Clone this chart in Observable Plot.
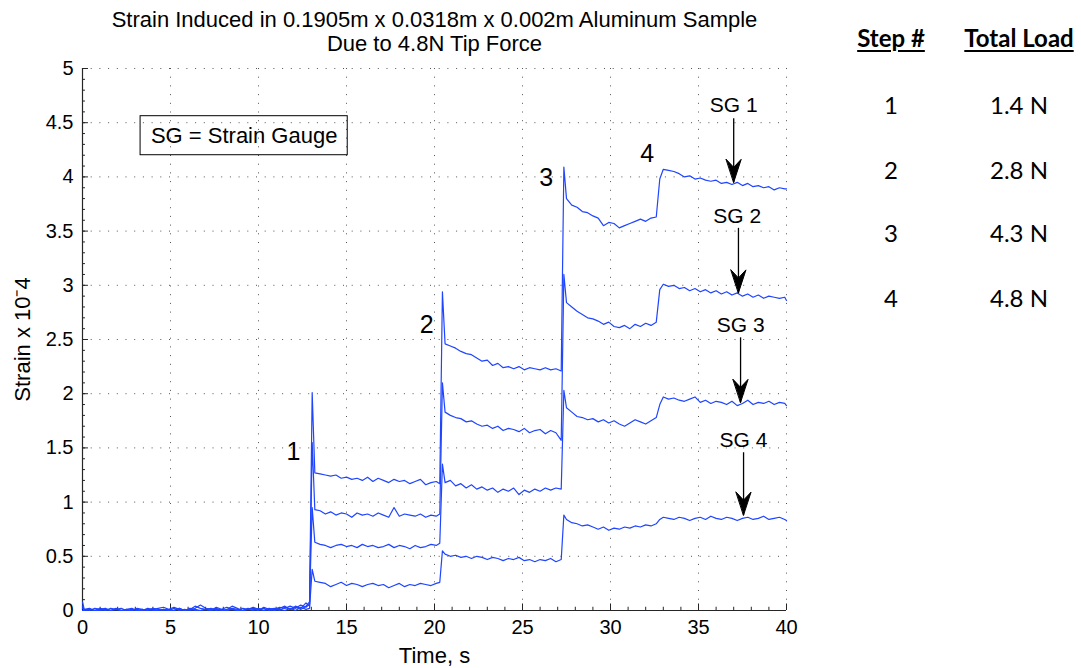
<!DOCTYPE html>
<html>
<head>
<meta charset="utf-8">
<script src="https://cdn.jsdelivr.net/npm/d3@7"></script>
<script src="https://cdn.jsdelivr.net/npm/@observablehq/plot@0.6"></script>
<style>
  body { margin: 0; background: #fff; }
  #wrap { position: relative; width: 1081px; height: 668px; overflow: hidden; }
  #wrap svg { position: absolute; left: 0; top: 0; }
  #table { position: absolute; left: 0; top: 0; width: 1081px; height: 668px; font-family: "Lato", "Open Sans", sans-serif; color: #000; pointer-events: none; }
  #table div { position: absolute; transform: translate(-50%, -50%); white-space: nowrap; font-size: 24px; line-height: 1; }
  #table .hd { font-weight: bold; text-decoration: underline; text-decoration-thickness: 2px; text-underline-offset: 3px; }
</style>
</head>
<body>
<div id="wrap"></div>
<script>
// ---------- data ----------
const seriesNames = ["SG 1", "SG 2", "SG 3", "SG 4"];

const time = [
  0, 0.1, 0.4, 0.7, 1.0, 1.3, 1.6, 1.9, 2.2, 2.5, 2.8, 3.1, 3.4, 3.7, 4.0, 4.3, 4.6, 4.9, 5.2, 5.5, 5.8, 6.1, 6.4, 6.7, 7.0,
  7.3, 7.6, 7.9, 8.2, 8.5, 8.8, 9.1, 9.4, 9.7, 10.0, 10.3, 10.6, 10.9, 11.2, 11.5, 11.8, 12.1, 12.4, 12.7, 12.9,
  13.05, 13.2, 13.5, 13.8, 14.1, 14.4, 14.7, 15.0, 15.3, 15.6, 15.9, 16.2, 16.5, 16.8, 17.1, 17.4, 17.7, 18.0, 18.3, 18.6,
  18.9, 19.2, 19.5, 19.8, 20.1, 20.3,
  20.45, 20.6, 20.9, 21.2, 21.5, 21.8, 22.1, 22.4, 22.7, 23.0, 23.3, 23.6, 23.9, 24.2, 24.5, 24.8, 25.1, 25.4, 25.7, 26.0,
  26.3, 26.6, 26.9, 27.2,
  27.35, 27.5, 27.8, 28.1, 28.4, 28.7, 29.0, 29.3, 29.6, 29.9, 30.2, 30.5, 30.8, 31.1, 31.4, 31.7, 32.0, 32.3, 32.6,
  32.8, 33.0, 33.3, 33.6, 33.9, 34.2, 34.5, 34.8, 35.1, 35.4, 35.7, 36.0, 36.3, 36.6, 36.9, 37.2, 37.5, 37.8, 38.1, 38.4,
  38.7, 39.0, 39.3, 39.6, 39.9, 40.0
];

const sg1 = [
  0.08, 0.01, 0.00, 0.02, 0.01, 0.00, 0.02, 0.01, 0.00, 0.01, 0.02, 0.00, 0.01, 0.00, 0.02, 0.01, 0.00, 0.01, 0.03, 0.01,
  0.00, 0.02, 0.01, 0.00, 0.01, 0.02, 0.00, 0.01, 0.03, 0.01, 0.00, 0.02, 0.01, 0.03, 0.01, 0.00, 0.02, 0.01, 0.03, 0.02,
  0.04, 0.02, 0.05, 0.03, 0.06,
  2.01, 1.27, 1.26, 1.25, 1.24, 1.25, 1.22, 1.23, 1.21, 1.22, 1.20, 1.23, 1.19, 1.22, 1.20, 1.18, 1.21, 1.19, 1.20, 1.17,
  1.19, 1.21, 1.16, 1.18, 1.19, 1.17,
  2.94, 2.46, 2.44, 2.42, 2.39, 2.37, 2.36, 2.33, 2.30, 2.31, 2.26, 2.28, 2.24, 2.25, 2.23, 2.25, 2.22, 2.24, 2.23, 2.22,
  2.24, 2.22, 2.23, 2.21,
  4.09, 3.80, 3.74, 3.72, 3.68, 3.67, 3.64, 3.62, 3.55, 3.58, 3.57, 3.53, 3.55, 3.57, 3.59, 3.61, 3.59, 3.62, 3.63,
  3.98, 4.07, 4.06, 4.05, 4.03, 4.00, 4.01, 3.98, 3.99, 3.97, 3.96, 3.97, 3.94, 3.95, 3.93, 3.95, 3.92, 3.94, 3.91, 3.92,
  3.90, 3.91, 3.88, 3.90, 3.89, 3.89
];

const sg2 = [
  0.04, 0.00, 0.01, 0.00, 0.02, 0.01, 0.00, 0.02, 0.00, 0.01, 0.00, 0.02, 0.01, 0.00, 0.01, 0.02, 0.03, 0.01, 0.00, 0.02,
  0.00, 0.01, 0.04, 0.02, 0.01, 0.00, 0.03, 0.01, 0.00, 0.02, 0.01, 0.00, 0.02, 0.01, 0.00, 0.03, 0.01, 0.02, 0.00, 0.03,
  0.01, 0.04, 0.02, 0.07, 0.04,
  1.55, 0.93, 0.92, 0.89, 0.91, 0.88, 0.90, 0.89, 0.86, 0.90, 0.88, 0.89, 0.87, 0.90, 0.88, 0.86, 0.95, 0.87, 0.89, 0.88,
  0.87, 0.89, 0.86, 0.88, 0.87, 0.89,
  2.10, 1.83, 1.80, 1.78, 1.77, 1.74, 1.75, 1.72, 1.70, 1.71, 1.68, 1.70, 1.66, 1.68, 1.67, 1.65, 1.68, 1.64, 1.66, 1.67,
  1.63, 1.66, 1.64, 1.57,
  3.10, 2.84, 2.80, 2.76, 2.73, 2.70, 2.69, 2.67, 2.64, 2.66, 2.62, 2.61, 2.63, 2.60, 2.64, 2.62, 2.65, 2.63, 2.66,
  2.96, 3.01, 2.99, 3.00, 2.97, 2.98, 2.95, 2.97, 2.94, 2.96, 2.93, 2.95, 2.92, 2.94, 2.91, 2.93, 2.90, 2.92, 2.89, 2.91,
  2.88, 2.90, 2.89, 2.88, 2.89, 2.86
];

const sg3 = [
  0.02, 0.01, 0.02, 0.00, 0.01, 0.02, 0.00, 0.01, 0.02, 0.00, 0.00, 0.01, 0.00, 0.02, 0.01, 0.00, 0.01, 0.00, 0.02, 0.00,
  0.01, 0.00, 0.02, 0.05, 0.02, 0.01, 0.02, 0.00, 0.01, 0.04, 0.02, 0.00, 0.01, 0.02, 0.01, 0.02, 0.00, 0.01, 0.02, 0.04,
  0.01, 0.03, 0.01, 0.04, 0.08,
  0.95, 0.63, 0.61, 0.60, 0.58, 0.60, 0.61, 0.59, 0.60, 0.58, 0.61, 0.59, 0.60, 0.58, 0.59, 0.61, 0.58, 0.60, 0.59, 0.57,
  0.60, 0.58, 0.59, 0.61, 0.60, 0.62,
  1.35, 1.18, 1.20, 1.15, 1.17, 1.13, 1.16, 1.12, 1.14, 1.11, 1.13, 1.09, 1.12, 1.10, 1.13, 1.07, 1.11, 1.09, 1.12, 1.10,
  1.13, 1.11, 1.13, 1.12,
  2.03, 1.87, 1.83, 1.79, 1.78, 1.76, 1.77, 1.74, 1.76, 1.73, 1.75, 1.72, 1.70, 1.73, 1.76, 1.74, 1.72, 1.75, 1.78,
  1.90, 1.97, 1.95, 1.96, 1.94, 1.93, 1.95, 1.97, 1.92, 1.94, 1.91, 1.93, 1.92, 1.90, 1.93, 1.89, 1.91, 1.94, 1.90, 1.92,
  1.91, 1.93, 1.90, 1.92, 1.91, 1.89
];

const sg4 = [
  0.00, 0.00, 0.01, 0.00, 0.00, 0.01, 0.00, 0.01, 0.00, 0.00, 0.01, 0.00, 0.00, 0.01, 0.00, 0.00, 0.01, 0.00, 0.00, 0.02,
  0.00, 0.01, 0.00, 0.00, 0.01, 0.00, 0.01, 0.00, 0.00, 0.01, 0.00, 0.00, 0.01, 0.00, 0.02, 0.00, 0.01, 0.00, 0.01, 0.00,
  0.02, 0.00, 0.03, 0.01, 0.02,
  0.38, 0.27, 0.26, 0.25, 0.22, 0.24, 0.26, 0.23, 0.25, 0.24, 0.22, 0.24, 0.25, 0.23, 0.24, 0.21, 0.23, 0.25, 0.22, 0.24,
  0.23, 0.25, 0.24, 0.23, 0.25, 0.26,
  0.55, 0.52, 0.50, 0.51, 0.49, 0.50, 0.48, 0.50, 0.49, 0.47, 0.49, 0.48, 0.46, 0.48, 0.47, 0.49, 0.46, 0.47, 0.45, 0.47,
  0.46, 0.48, 0.45, 0.47,
  0.88, 0.84, 0.81, 0.80, 0.78, 0.79, 0.77, 0.75, 0.77, 0.74, 0.76, 0.75, 0.77, 0.76, 0.78, 0.77, 0.79, 0.78, 0.80,
  0.84, 0.86, 0.85, 0.84, 0.86, 0.85, 0.83, 0.85, 0.86, 0.84, 0.87, 0.85, 0.84, 0.86, 0.85, 0.83, 0.85, 0.86, 0.84, 0.85,
  0.87, 0.84, 0.85, 0.86, 0.84, 0.83
];

const xTicks = [0, 5, 10, 15, 20, 25, 30, 35, 40];
const yTicks = [0, 0.5, 1, 1.5, 2, 2.5, 3, 3.5, 4, 4.5, 5];

const titleLines = ["Strain Induced in 0.1905m x 0.0318m x 0.002m Aluminum Sample", "Due to 4.8N Tip Force"];
const xLabel = "Time, s";
const yLabel = "Strain x 10\u207B4";
const legendText = "SG = Strain Gauge";

// step number annotations (label, time, strain)
const stepLabels = ["1", "2", "3", "4"];
const stepX = [11.99, 19.55, 26.35, 32.08];
const stepY = [1.46, 2.63, 3.99, 4.21];

// SG callouts: label position and arrow (start -> tip)
const sgLabelX = [37.0, 37.2, 37.4, 37.55];
const sgLabelY = [4.66, 3.64, 2.63, 1.57];
const arrowX = [37.0, 37.27, 37.39, 37.56];
const arrowTopY = [4.54, 3.53, 2.52, 1.46];
const arrowTipY = [3.95, 2.93, 1.92, 0.88];

// legend box corners (data units)
const legendBox = {x1: 3.3, x2: 15.07, y1: 4.2, y2: 4.56};

// right-hand table
const tableSteps = ["1", "2", "3", "4"];
const tableLoads = ["1.4 N", "2.8 N", "4.3 N", "4.8 N"];

// ---------- build ----------
const valuesBySeries = [sg1, sg2, sg3, sg4];
valuesBySeries.forEach((v, i) => {
  if (v.length !== time.length) throw new Error(seriesNames[i] + " length " + v.length + " vs " + time.length);
});
const rows = [];
seriesNames.forEach((name, i) => {
  time.forEach((t, j) => rows.push({series: name, t, v: valuesBySeries[i][j]}));
});

const minorX = d3.range(0, 40.001, 1);
const minorY = d3.range(0, 5.001, 0.1);

const gridStyle = {stroke: "#555", strokeOpacity: 1, strokeWidth: 1, strokeDasharray: "1,7.7"};
const axisColor = "#262626";

// filled, concave arrow head; vector anchored at its end (the tip)
const headShape = {
  draw(context, l) {
    context.moveTo(0, -l);
    context.lineTo(-7.5, 0);
    context.lineTo(0, -8);
    context.lineTo(7.5, 0);
    context.closePath();
  }
};

const arrows = arrowX.map((x, i) => ({x, top: arrowTopY[i], tip: arrowTipY[i]}));

const chart = Plot.plot({
  width: 1081,
  height: 668,
  marginLeft: 82,
  marginRight: 295,
  marginTop: 68,
  marginBottom: 58,
  style: {fontFamily: "'Liberation Sans', Arial, sans-serif", fontSize: "20px", color: "#000", background: "#fff", overflow: "visible"},
  x: {domain: [0, 40], ticks: xTicks},
  y: {domain: [0, 5], ticks: yTicks},
  marks: [
    Plot.gridX(xTicks.filter(d => d > 0), gridStyle),
    Plot.gridY(yTicks.filter(d => d > 0), gridStyle),
    Plot.ruleX(minorX, {y1: 0, y2: 0.03, stroke: axisColor}),
    Plot.ruleX(xTicks, {y1: 0, y2: 0.06, stroke: axisColor}),
    Plot.ruleY(minorY, {x1: 0, x2: 0.17, stroke: axisColor}),
    Plot.ruleY(yTicks, {x1: 0, x2: 0.34, stroke: axisColor}),
    Plot.ruleX([0], {stroke: axisColor, strokeWidth: 1.2}),
    Plot.ruleY([0], {stroke: axisColor, strokeWidth: 1.2}),
    Plot.axisX(xTicks, {tickSize: 0, tickPadding: 9, label: null, tickFormat: d => String(d), fontSize: 20}),
    Plot.axisY(yTicks, {tickSize: 0, tickPadding: 9, label: null, tickFormat: d => String(d), fontSize: 20}),
    Plot.line(rows, {x: "t", y: "v", z: "series", stroke: "#1f45ff", strokeWidth: 1.2}),
    Plot.rect([legendBox], {x1: "x1", x2: "x2", y1: "y1", y2: "y2", fill: "none", stroke: "#000", strokeWidth: 1}),
    Plot.text([legendText], {x: (legendBox.x1 + legendBox.x2) / 2, y: (legendBox.y1 + legendBox.y2) / 2, fontSize: 22}),
    Plot.text(stepLabels, {x: (d, i) => stepX[i], y: (d, i) => stepY[i], text: d => d, fontSize: 25}),
    Plot.text(seriesNames, {x: (d, i) => sgLabelX[i], y: (d, i) => sgLabelY[i], text: d => d, fontSize: 21}),
    Plot.link(arrows, {x1: "x", x2: "x", y1: "top", y2: "tip", stroke: "#000", strokeWidth: 1.3}),
    Plot.vector(arrows, {x: "x", y: "tip", anchor: "end", rotate: 180, length: 23, shape: headShape, stroke: "#000", fill: "#000", strokeWidth: 1}),
    Plot.text([titleLines[0]], {frameAnchor: "top", lineAnchor: "middle", dy: -49, fontSize: 22}),
    Plot.text([titleLines[1]], {frameAnchor: "top", lineAnchor: "middle", dy: -25, fontSize: 22}),
    Plot.text([xLabel], {frameAnchor: "bottom", lineAnchor: "middle", dy: 45, fontSize: 22}),
    Plot.text([yLabel], {frameAnchor: "left", textAnchor: "middle", lineAnchor: "middle", dx: -60, rotate: -90, fontSize: 22})
  ]
});

const wrap = document.getElementById("wrap");
wrap.appendChild(chart);

// table at right (HTML overlay)
const table = document.createElement("div");
table.id = "table";
const colStepX = 891, colLoadX = 1019;
const headerY = 38, rowYs = [105, 170, 233, 298];
function addCell(text, x, y, cls) {
  const d = document.createElement("div");
  d.textContent = text;
  d.style.left = x + "px";
  d.style.top = y + "px";
  if (cls) d.className = cls;
  table.appendChild(d);
}
addCell("Step #", colStepX, headerY, "hd");
addCell("Total Load", colLoadX, headerY, "hd");
tableSteps.forEach((s, i) => addCell(s, colStepX, rowYs[i]));
tableLoads.forEach((s, i) => addCell(s, colLoadX, rowYs[i]));
wrap.appendChild(table);
</script>
</body>
</html>
